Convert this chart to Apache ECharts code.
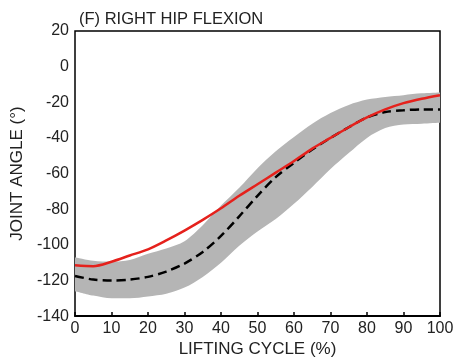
<!DOCTYPE html>
<html>
<head>
<meta charset="utf-8">
<script src="https://cdn.jsdelivr.net/npm/echarts@6/dist/echarts.min.js"></script>
<style>
  html, body { margin: 0; padding: 0; background: #fff; }
  #chart { width: 459px; height: 363px; }
</style>
</head>
<body>
<div id="chart"></div>
<script>
// lifting cycle (%)
const cycle = [0, 5, 10, 15, 20, 25, 30, 35, 40, 45, 50, 55, 60, 65, 70, 75, 80, 85, 90, 95, 100]
// red solid line
const redLine = [-111.5, -112, -109.5, -106, -102.5, -97.5, -92, -86, -79.5, -72.5, -66, -59.5, -53, -46, -40, -34, -28.5, -24, -20.5, -18, -16]
// black dashed line
const blackLine = [-117.5, -119.5, -120, -119.5, -118, -115, -110.5, -104, -95, -84, -72.5, -62, -54, -46.5, -40, -34, -28.5, -25.5, -24.5, -24, -24]
// grey band edges
const bandUpper = [-107, -109, -109.5, -108.5, -105, -102, -98, -89, -78, -68, -57, -47.5, -39.5, -32, -26, -21.5, -18.5, -17, -16, -15, -14.5]
const bandLower = [-126, -128.5, -130, -130, -129, -127.5, -124, -118, -110, -100.5, -92.5, -85.5, -77, -67.5, -57.5, -48.5, -40, -34.5, -32.5, -32, -31.5]

const font = 'Liberation Sans, Arial, sans-serif'
const bandWidth = cycle.map((x, i) => bandUpper[i] - bandLower[i])

const myEchart = echarts.init(document.getElementById('chart'))
const option = {
  animation: false,
  title: {
    text: '(F) RIGHT HIP FLEXION',
    left: 74,
    top: 6,
    textStyle: { fontFamily: font, fontSize: 16.5, fontWeight: 'normal', color: '#222' }
  },
  grid: {
    left: 75, right: 19, top: 31, bottom: 46,
    show: true, borderColor: '#000', borderWidth: 1.5, backgroundColor: 'transparent'
  },
  xAxis: {
    type: 'category', data: cycle.map(String), boundaryGap: false,
    name: 'LIFTING CYCLE (%)', nameLocation: 'middle', nameGap: 22,
    nameTextStyle: { fontFamily: font, fontSize: 17, color: '#222' },
    axisLine: { onZero: false, lineStyle: { color: '#000', width: 2 } },
    axisTick: { inside: true, length: 4, interval: 1, lineStyle: { color: '#000', width: 1.5 } },
    axisLabel: { fontFamily: font, fontSize: 16, color: '#222', margin: 4, interval: 1 },
    splitLine: { show: false }
  },
  yAxis: {
    type: 'value', min: -140, max: 20, interval: 20,
    name: 'JOINT ANGLE (°)', nameLocation: 'middle', nameGap: 44, nameRotate: 90,
    nameTextStyle: { fontFamily: font, fontSize: 17, color: '#222' },
    axisLine: { onZero: false, lineStyle: { color: '#000', width: 2 } },
    axisTick: { inside: true, length: 4, lineStyle: { color: '#000', width: 1.5 } },
    axisLabel: { fontFamily: font, fontSize: 16, color: '#222', margin: 6 },
    splitLine: { show: false }
  },
  series: [
    {
      // band base
      type: 'line', data: bandLower, stack: 'band', stackStrategy: 'all',
      smooth: 0.3, symbol: 'none', lineStyle: { opacity: 0 }, silent: true
    },
    {
      // band thickness
      type: 'line', data: bandWidth, stack: 'band', stackStrategy: 'all',
      smooth: 0.3, symbol: 'none', lineStyle: { opacity: 0 },
      areaStyle: { color: '#b5b5b5', opacity: 1 }, silent: true
    },
    {
      type: 'line', data: blackLine, smooth: 0.3, symbol: 'none',
      lineStyle: { color: '#000', width: 2.5, type: [9, 5] }, z: 3
    },
    {
      type: 'line', data: redLine, smooth: 0.3, symbol: 'none',
      lineStyle: { color: '#e5211c', width: 2.5 }, z: 4
    }
  ]
}
myEchart.setOption(option)
</script>
</body>
</html>
